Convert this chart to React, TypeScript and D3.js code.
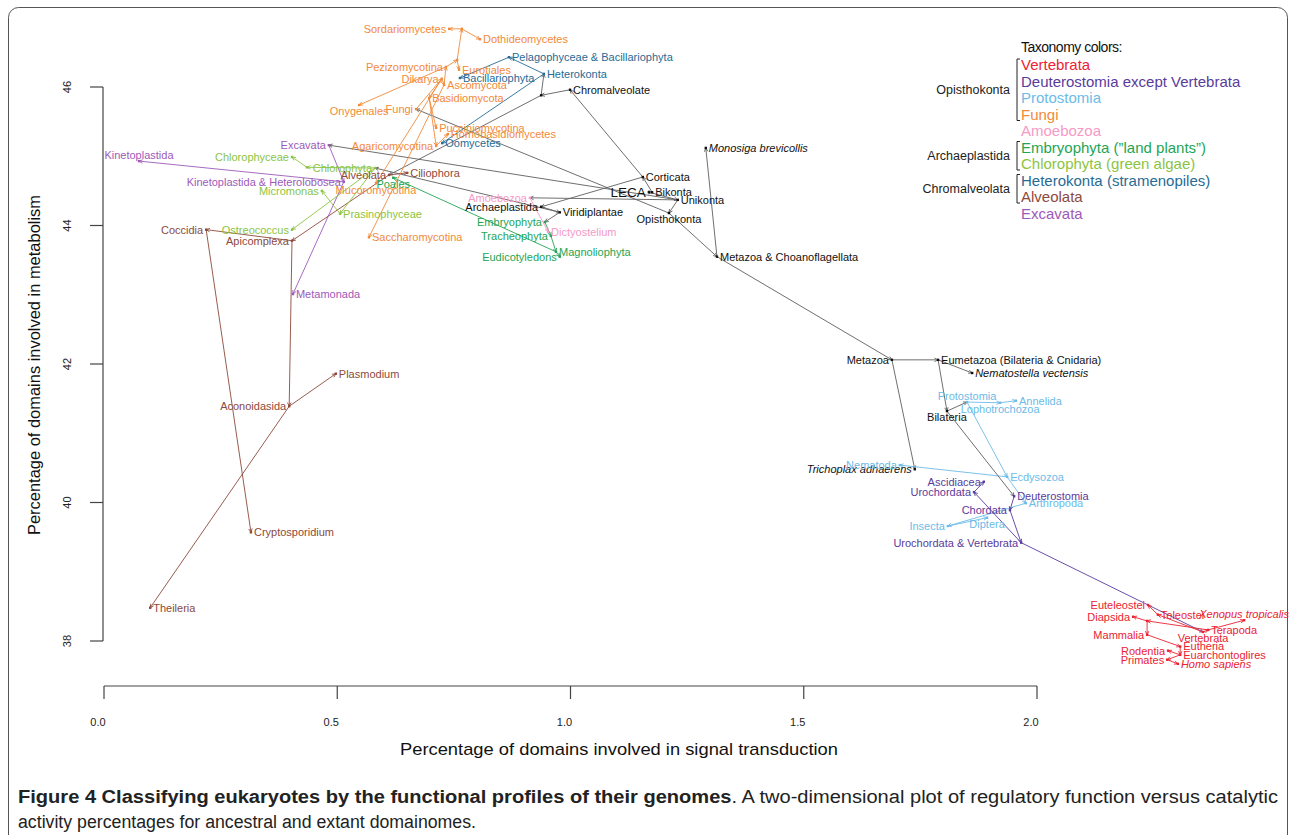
import * as d3 from 'd3';

type Side = 'r' | 'l' | 'a' | 'b';
// [taxon, parent, % signal transduction, % metabolism, label side]
// names starting with "~" are unlabelled ancestral nodes
type Row = [string, string | null, number, number, Side];

const CORE: Row[] = [
  ['LECA', null, 1.168, 44.48, 'l'],
  ['Bikonta', 'LECA', 1.175, 44.48, 'r'],
  ['Unikonta', 'LECA', 1.230, 44.37, 'r'],
  ['Corticata', 'Bikonta', 1.155, 44.70, 'r'],
  ['Chromalveolate', 'Corticata', 0.999, 45.96, 'r'],
  ['~Chromalveolata', 'Chromalveolate', 0.937, 45.88, 'r'],
  ['Archaeplastida', 'Corticata', 0.937, 44.27, 'l'],
  ['Viridiplantae', 'Archaeplastida', 0.977, 44.19, 'r'],
  ['Opisthokonta', 'Unikonta', 1.211, 44.18, 'b'],
  ['Metazoa & Choanoflagellata', 'Opisthokonta', 1.314, 43.55, 'r'],
  ['Monosiga brevicollis', 'Metazoa & Choanoflagellata', 1.290, 45.12, 'r'],
  ['Metazoa', 'Metazoa & Choanoflagellata', 1.689, 42.06, 'l'],
  ['Eumetazoa (Bilateria & Cnidaria)', 'Metazoa', 1.788, 42.06, 'r'],
  ['Nematostella vectensis', 'Eumetazoa (Bilateria & Cnidaria)', 1.861, 41.87, 'r'],
  ['Trichoplax adhaerens', 'Metazoa', 1.738, 40.48, 'l'],
  ['Bilateria', 'Eumetazoa (Bilateria & Cnidaria)', 1.807, 41.32, 'b'],
];

const HETEROKONTA: Row[] = [
  ['Heterokonta', '~Chromalveolata', 0.943, 46.19, 'r'],
  ['Pelagophyceae & Bacillariophyta', 'Heterokonta', 0.868, 46.43, 'r'],
  ['Bacillariophyta', 'Pelagophyceae & Bacillariophyta', 0.763, 46.13, 'r'],
  ['Oomycetes', 'Heterokonta', 0.725, 45.19, 'r'],
];

const ALVEOLATA: Row[] = [
  ['Alveolata', '~Chromalveolata', 0.611, 44.73, 'l'],
  ['Ciliophora', 'Alveolata', 0.650, 44.76, 'r'],
  ['Apicomplexa', 'Alveolata', 0.403, 43.78, 'l'],
  ['Coccidia', 'Apicomplexa', 0.219, 43.94, 'l'],
  ['Cryptosporidium', 'Coccidia', 0.315, 39.57, 'r'],
  ['Aconoidasida', 'Apicomplexa', 0.397, 41.39, 'l'],
  ['Plasmodium', 'Aconoidasida', 0.497, 41.86, 'r'],
  ['Theileria', 'Aconoidasida', 0.099, 38.48, 'r'],
];

const EXCAVATA: Row[] = [
  ['Excavata', 'Unikonta', 0.482, 45.16, 'l'],
  ['Kinetoplastida & Heterolobosea', 'Excavata', 0.514, 44.63, 'l'],
  ['Kinetoplastida', 'Kinetoplastida & Heterolobosea', 0.075, 44.93, 'a'],
  ['Metamonada', 'Kinetoplastida & Heterolobosea', 0.405, 43.01, 'r'],
];

const CHLOROPHYTA: Row[] = [
  ['Chlorophyta', 'Viridiplantae', 0.581, 44.83, 'l'],
  ['~Chlorophyceae', 'Chlorophyta', 0.435, 44.84, 'r'],
  ['Chlorophyceae', '~Chlorophyceae', 0.403, 44.99, 'l'],
  ['Prasinophyceae', 'Chlorophyta', 0.506, 44.17, 'r'],
  ['Micromonas', 'Prasinophyceae', 0.467, 44.50, 'l'],
  ['Ostreococcus', 'Chlorophyta', 0.403, 43.94, 'l'],
];

const EMBRYOPHYTA: Row[] = [
  ['Embryophyta', 'Viridiplantae', 0.945, 44.05, 'l'],
  ['Tracheophyta', 'Embryophyta', 0.958, 43.85, 'l'],
  ['Magnoliophyta', 'Tracheophyta', 0.969, 43.62, 'r'],
  ['Eudicotyledons', 'Magnoliophyta', 0.977, 43.55, 'l'],
  ['Poales', 'Magnoliophyta', 0.620, 44.69, 'b'],
];

const AMOEBOZOA: Row[] = [
  ['Amoebozoa', 'Unikonta', 0.913, 44.40, 'l'],
  ['Dictyostelium', 'Amoebozoa', 0.952, 43.91, 'r'],
];

const FUNGI: Row[] = [
  ['Fungi', 'Opisthokonta', 0.669, 45.68, 'l'],
  ['Dikarya', 'Fungi', 0.724, 46.12, 'l'],
  ['Ascomycota', 'Dikarya', 0.729, 46.03, 'r'],
  ['Pezizomycotina', 'Ascomycota', 0.733, 46.29, 'l'],
  ['~Pezizomycotina', 'Pezizomycotina', 0.757, 46.39, 'r'],
  ['Eurotiales', '~Pezizomycotina', 0.761, 46.25, 'r'],
  ['~Sordariomycetes', '~Pezizomycotina', 0.767, 46.84, 'r'],
  ['Sordariomycetes', '~Sordariomycetes', 0.740, 46.84, 'l'],
  ['Dothideomycetes', '~Sordariomycetes', 0.806, 46.69, 'r'],
  ['Onygenales', 'Pezizomycotina', 0.547, 45.74, 'b'],
  ['Saccharomycotina', 'Ascomycota', 0.568, 43.83, 'r'],
  ['Basidiomycota', 'Dikarya', 0.697, 45.84, 'r'],
  ['Pucciniomycotina', 'Basidiomycota', 0.712, 45.41, 'r'],
  ['Agaricomycotina', 'Basidiomycota', 0.712, 45.15, 'l'],
  ['Homobasidiomycetes', 'Agaricomycotina', 0.737, 45.32, 'r'],
  ['Mucoromycotina', 'Dikarya', 0.583, 44.61, 'b'],
];

const PROTOSTOMIA: Row[] = [
  ['Protostomia', 'Bilateria', 1.850, 41.45, 'a'],
  ['Lophotrochozoa', 'Protostomia', 1.921, 41.44, 'b'],
  ['Annelida', 'Lophotrochozoa', 1.955, 41.47, 'r'],
  ['Ecdysozoa', 'Protostomia', 1.936, 40.37, 'r'],
  ['Nematoda', 'Ecdysozoa', 1.706, 40.54, 'l'],
  ['Arthropoda', 'Ecdysozoa', 1.976, 39.99, 'r'],
  ['Insecta', 'Arthropoda', 1.809, 39.66, 'l'],
  ['Diptera', 'Insecta', 1.893, 39.78, 'b'],
];

const DEUTEROSTOMIA: Row[] = [
  ['Deuterostomia', 'Bilateria', 1.951, 40.09, 'r'],
  ['Chordata', 'Deuterostomia', 1.942, 39.89, 'l'],
  ['Urochordata & Vertebrata', 'Chordata', 1.966, 39.42, 'l'],
  ['Urochordata', 'Urochordata & Vertebrata', 1.865, 40.15, 'l'],
  ['Ascidiacea', 'Urochordata', 1.886, 40.30, 'l'],
];

const VERTEBRATA: Row[] = [
  ['Vertebrata', 'Urochordata & Vertebrata', 2.356, 38.13, 'b'],
  ['Teleostei', 'Vertebrata', 2.259, 38.38, 'r'],
  ['Euteleostei', 'Teleostei', 2.238, 38.52, 'l'],
  ['Terapoda', 'Vertebrata', 2.367, 38.16, 'r'],
  ['Xenopus tropicalis', 'Terapoda', 2.444, 38.30, 'a'],
  ['~Amniota', 'Terapoda', 2.236, 38.29, 'r'],
  ['Diapsida', '~Amniota', 2.206, 38.35, 'l'],
  ['Mammalia', '~Amniota', 2.236, 38.09, 'l'],
  ['Eutheria', 'Mammalia', 2.307, 37.92, 'r'],
  ['Euarchontoglires', 'Eutheria', 2.307, 37.80, 'r'],
  ['Rodentia', 'Euarchontoglires', 2.281, 37.86, 'l'],
  ['Primates', 'Euarchontoglires', 2.279, 37.73, 'l'],
  ['Homo sapiens', 'Primates', 2.302, 37.67, 'r'],
];

const SPECIES = ['Monosiga brevicollis', 'Nematostella vectensis', 'Trichoplax adhaerens', 'Xenopus tropicalis', 'Homo sapiens'];

const LEGEND_KEYS = ['vert', 'deut', 'proto', 'fungi', 'amoe', 'embryo', 'chloro', 'hetero', 'alveo', 'excav'];
const LEGEND_LABELS = [
  'Vertebrata',
  'Deuterostomia except Vertebrata',
  'Protostomia',
  'Fungi',
  'Amoebozoa',
  'Embryophyta (\u201Dland plants\u201D)',
  'Chlorophyta (green algae)',
  'Heterokonta (stramenopiles)',
  'Alveolata',
  'Excavata',
];
// [group label, first legend row, last legend row]
const LEGEND_BRACKETS: [string, number, number][] = [
  ['Opisthokonta', 0, 3],
  ['Archaeplastida', 5, 6],
  ['Chromalveolata', 7, 8],
];

const X_TICKS = [0, 0.5, 1, 1.5, 2];
const Y_TICKS = [38, 40, 42, 44, 46];

const GROUPS: { key: string; rows: Row[] }[] = [
  { key: 'core', rows: CORE },
  { key: 'hetero', rows: HETEROKONTA },
  { key: 'alveo', rows: ALVEOLATA },
  { key: 'excav', rows: EXCAVATA },
  { key: 'chloro', rows: CHLOROPHYTA },
  { key: 'embryo', rows: EMBRYOPHYTA },
  { key: 'amoe', rows: AMOEBOZOA },
  { key: 'fungi', rows: FUNGI },
  { key: 'proto', rows: PROTOSTOMIA },
  { key: 'deut', rows: DEUTEROSTOMIA },
  { key: 'vert', rows: VERTEBRATA },
];

const COLOR: Record<string, string> = {
  core: '#111111',
  vert: '#ec2232',
  deut: '#5a3b9b',
  proto: '#6cbbe8',
  fungi: '#f28a3a',
  amoe: '#f59ac6',
  embryo: '#24a553',
  chloro: '#8cc43f',
  hetero: '#276b95',
  alveo: '#8c4a3b',
  excav: '#9d5ab9',
};
const CORE_LINE = '#5f5f5f';

const FONT = "'Liberation Sans', Arial, Helvetica, sans-serif";
const CAPTION_FONT = "'Liberation Sans Narrow', 'Liberation Sans', Arial, sans-serif";

const W = 1290;
const H = 835;

const x = d3.scaleLinear().domain([0, 2]).range([104, 1037]);
const y = d3.scaleLinear().domain([38, 46]).range([641, 87]);
const fmtX = d3.format('.1f');

function arrowHead(x1: number, y1: number, x2: number, y2: number) {
  const len = 4;
  const ang = Math.PI / 7;
  const a = Math.atan2(y2 - y1, x2 - x1);
  const p = d3.path();
  p.moveTo(x2 - len * Math.cos(a - ang), y2 - len * Math.sin(a - ang));
  p.lineTo(x2, y2);
  p.lineTo(x2 - len * Math.cos(a + ang), y2 - len * Math.sin(a + ang));
  return p.toString();
}

export default function App() {
  const nodes = GROUPS.flatMap(g =>
    g.rows.map(([name, parent, sx, my, side]) => ({ name, parent, sx, my, side, group: g.key }))
  );
  const byName = new Map(nodes.map(n => [n.name, n]));
  const line = d3.line();

  const edges = nodes
    .filter(n => n.parent && byName.has(n.parent))
    .map(n => {
      const p = byName.get(n.parent as string)!;
      return {
        key: `${p.name}->${n.name}`,
        x1: x(p.sx), y1: y(p.my), x2: x(n.sx), y2: y(n.my),
        color: p.group === 'core' ? CORE_LINE : COLOR[p.group],
      };
    });

  const legendY = (i: number) => 65 + i * 16.5;

  return (
    <div style={{ position: 'fixed', left: 0, top: 0, background: '#fff' }}>
      <svg width={W} height={H} viewBox={`0 0 ${W} ${H}`} style={{ display: 'block' }} fontFamily={FONT}>
        <rect x={0} y={0} width={W} height={H} fill="#fff" />
        <rect x={8.5} y={7.5} width={1279} height={860} rx={10} fill="none" stroke="#555" strokeWidth={1} />

        {/* axes */}
        <line x1={x(0)} x2={x(2)} y1={686} y2={686} stroke="#444" strokeWidth={1.2} />
        {X_TICKS.map(t => (
          <g key={`xt${t}`}>
            <line x1={x(t)} x2={x(t)} y1={686} y2={699} stroke="#444" strokeWidth={1.2} />
            <text x={x(t) - 6} y={722} dy="0.35em" textAnchor="middle" fontSize={11} fill="#222">{fmtX(t)}</text>
          </g>
        ))}
        <line x1={103} x2={103} y1={y(46)} y2={y(38)} stroke="#444" strokeWidth={1.2} />
        {Y_TICKS.map(t => (
          <g key={`yt${t}`}>
            <line x1={90} x2={103} y1={y(t)} y2={y(t)} stroke="#444" strokeWidth={1.2} />
            <text transform={`translate(67,${y(t)}) rotate(-90)`} dy="0.35em" textAnchor="middle" fontSize={11} fill="#222">{t}</text>
          </g>
        ))}
        <text x={619} y={749} dy="0.35em" textAnchor="middle" fontSize={17} fill="#111"
          textLength={438} lengthAdjust="spacingAndGlyphs">
          Percentage of domains involved in signal transduction
        </text>
        <text transform="translate(34,365) rotate(-90)" dy="0.35em" textAnchor="middle" fontSize={16.5} fill="#111"
          textLength={340} lengthAdjust="spacingAndGlyphs">
          Percentage of domains involved in metabolism
        </text>

        {/* tree edges */}
        {edges.map(e => (
          <g key={e.key} stroke={e.color} fill="none" strokeWidth={0.9}>
            <path d={line([[e.x1, e.y1], [e.x2, e.y2]]) ?? ''} />
            <path d={arrowHead(e.x1, e.y1, e.x2, e.y2)} />
          </g>
        ))}

        {/* node points */}
        {nodes.map(n => (
          <rect key={`pt${n.name}`} x={x(n.sx) - 1.2} y={y(n.my) - 1.2} width={2.4} height={2.4} fill={COLOR[n.group]} />
        ))}

        {/* node labels */}
        {nodes.filter(n => !n.name.startsWith('~')).map(n => {
          const px = x(n.sx);
          const py = y(n.my);
          let tx = px, ty = py, anchor: 'start' | 'end' | 'middle' = 'start';
          if (n.side === 'r') { tx = px + 3; }
          else if (n.side === 'l') { tx = px - 3; anchor = 'end'; }
          else if (n.side === 'a') { ty = py - 6; anchor = 'middle'; }
          else { ty = py + 6.5; anchor = 'middle'; }
          const isLeca = n.name === 'LECA';
          return (
            <text key={`lb${n.name}`} x={tx} y={ty} dy="0.35em" textAnchor={anchor}
              fontSize={isLeca ? 13.5 : 11}
              fontStyle={SPECIES.includes(n.name) ? 'italic' : 'normal'}
              fill={COLOR[n.group]}>
              {n.name}
            </text>
          );
        })}

        {/* legend */}
        <text x={1021} y={47} dy="0.35em" fontSize={14} letterSpacing={-0.5} fill="#111">Taxonomy colors:</text>
        {LEGEND_LABELS.map((lab, i) => (
          <text key={`lg${i}`} x={1021} y={legendY(i)} dy="0.35em" fontSize={15} fill={COLOR[LEGEND_KEYS[i]]}>{lab}</text>
        ))}
        {LEGEND_BRACKETS.map(([lab, a, b]) => {
          const y0 = legendY(a) - 6;
          const y1 = legendY(b) + 6;
          return (
            <g key={`br${lab}`}>
              <path d={`M1020,${y0}H1017V${y1}H1020`} fill="none" stroke="#222" strokeWidth={1} />
              <text x={1010} y={(y0 + y1) / 2} dy="0.35em" textAnchor="end" fontSize={12.5} fill="#222">{lab}</text>
            </g>
          );
        })}

        {/* caption */}
        <text x={18} y={803} fontFamily={CAPTION_FONT} fontSize={18} fill="#222"
          textLength={1260} lengthAdjust="spacingAndGlyphs">
          <tspan fontWeight="bold">Figure 4 Classifying eukaryotes by the functional profiles of their genomes</tspan>
          <tspan>. A two-dimensional plot of regulatory function versus catalytic</tspan>
        </text>
        <text x={18} y={828} fontFamily={CAPTION_FONT} fontSize={18} fill="#222"
          textLength={458} lengthAdjust="spacingAndGlyphs">
          activity percentages for ancestral and extant domainomes.
        </text>
      </svg>
    </div>
  );
}
